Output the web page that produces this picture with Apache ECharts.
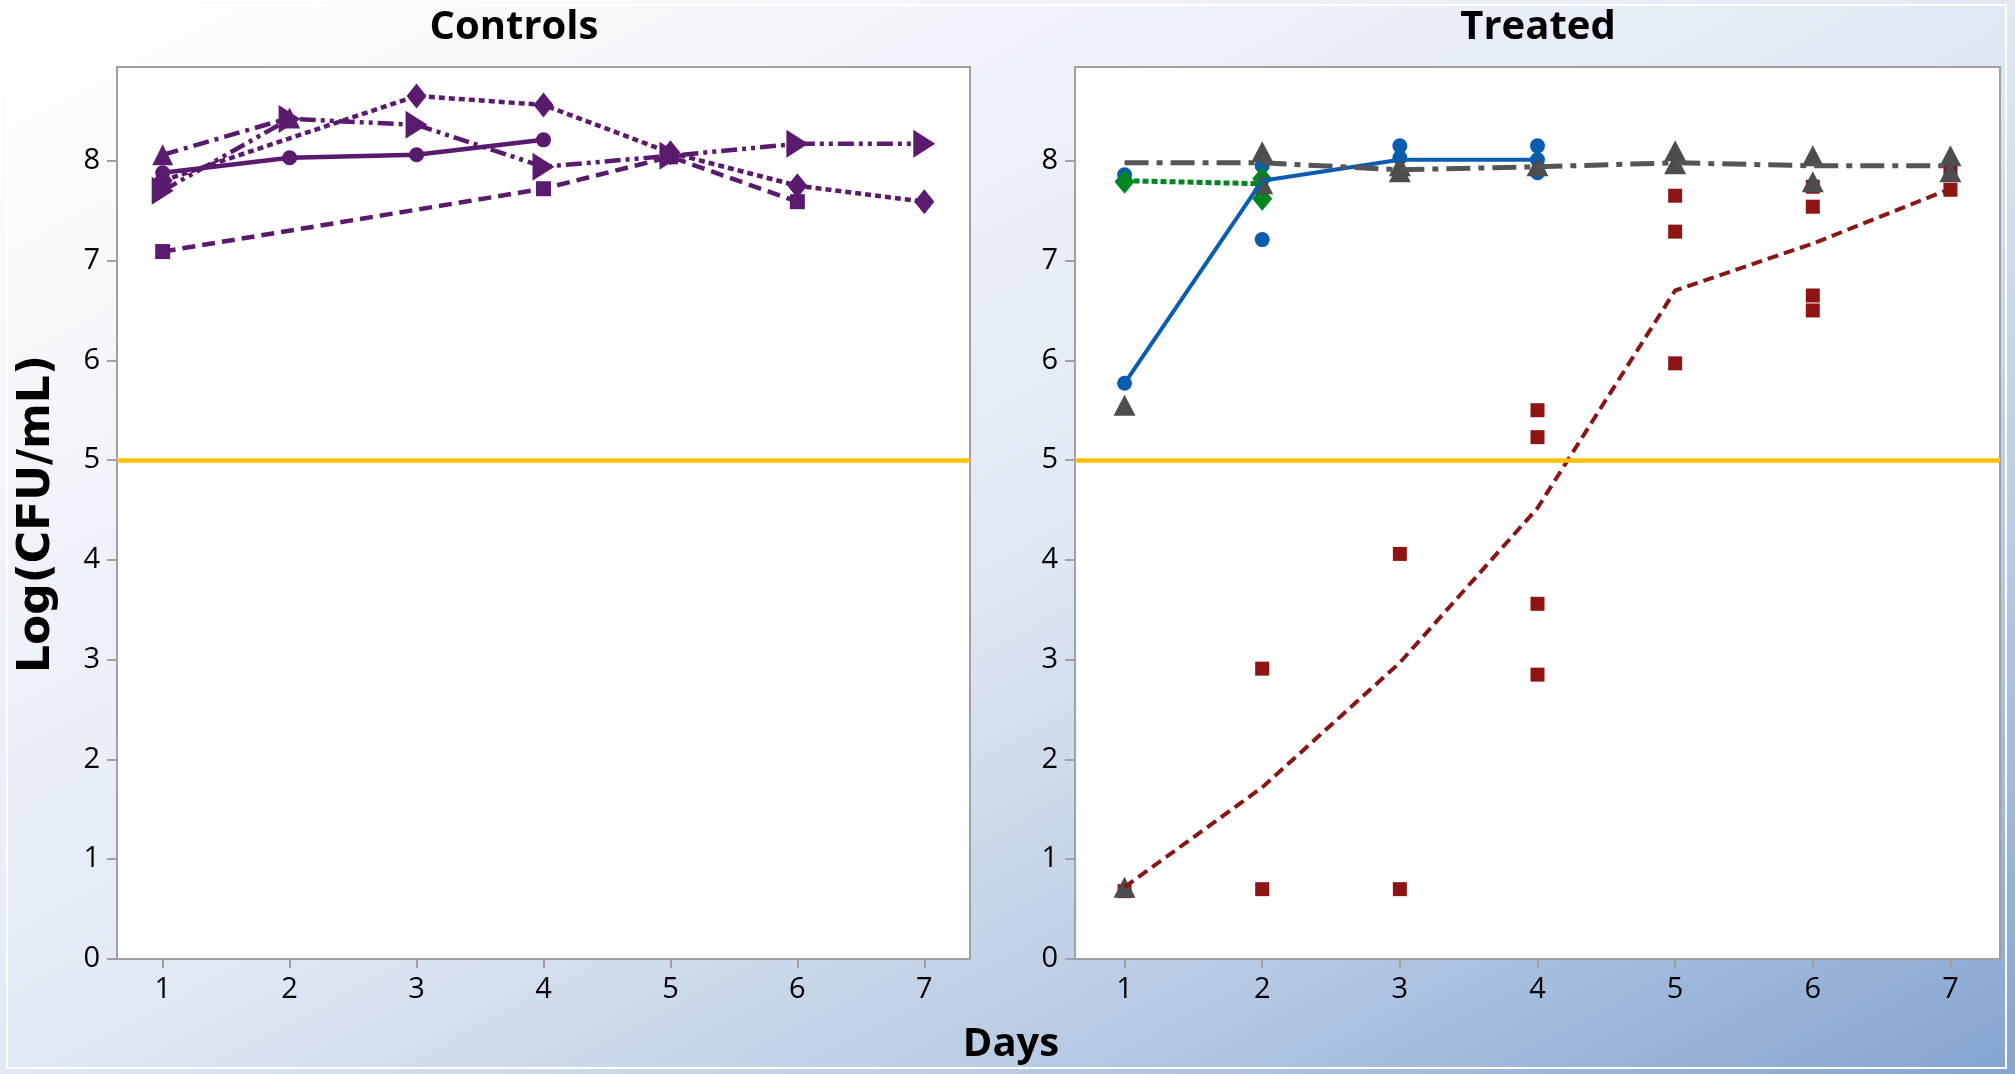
<!DOCTYPE html>
<html>
<head>
<meta charset="utf-8">
<script src="https://cdn.jsdelivr.net/npm/echarts@6/dist/echarts.min.js"></script>
<style>
html,body{margin:0;padding:0;}
#main{width:2015px;height:1074px;background:linear-gradient(to bottom right,#ffffff 0%,#e2e9f4 50%,#b8cbe4 75%,#84a4d1 100%);}
</style>
</head>
<body>
<div id="main"></div>
<script>
// tick labels
var dayTicks = [1, 2, 3, 4, 5, 6, 7];
var logTicks = [0, 1, 2, 3, 4, 5, 6, 7, 8];
var limitLine = 5;

// Controls
var ctrlCircleDays = [1, 2, 3, 4];
var ctrlCircle = [7.88, 8.03, 8.06, 8.21];
var ctrlSquareDays = [1, 4, 5, 6];
var ctrlSquare = [7.09, 7.72, 8.04, 7.59];
var ctrlDiamondDays = [1, 3, 4, 5, 6, 7];
var ctrlDiamond = [7.80, 8.65, 8.56, 8.08, 7.75, 7.59];
var ctrlTriUpDays = [1, 2];
var ctrlTriUp = [8.06, 8.43];
var ctrlTriRightDays = [1, 2, 3, 4, 5, 6, 7];
var ctrlTriRight = [7.70, 8.42, 8.36, 7.94, 8.05, 8.17, 8.17];

// Treated - lines
var blueLineDays = [1, 2, 3, 4];
var blueLine = [5.77, 7.80, 8.01, 8.01];
var greenLineDays = [1, 2];
var greenLine = [7.80, 7.77];
var grayLineDays = [1, 2, 3, 4, 5, 6, 7];
var grayLine = [7.98, 7.98, 7.91, 7.94, 7.98, 7.95, 7.95];
var redLineDays = [1, 2, 3, 4, 5, 6, 7];
var redLine = [0.72, 1.72, 2.97, 4.52, 6.70, 7.17, 7.72];

// Treated - individual points
var bluePtsDays = [1, 1, 2, 2, 3, 3, 4, 4, 4];
var bluePts = [5.77, 7.86, 7.21, 7.95, 8.15, 8.03, 8.15, 7.88, 8.01];
var greenPtsDays = [1, 2, 2];
var greenPts = [7.79, 7.82, 7.62];
var grayPtsDays = [1, 1, 2, 2, 3, 3, 4, 5, 5, 6, 6, 7, 7];
var grayPts = [5.55, 0.72, 8.09, 7.77, 7.95, 7.89, 7.95, 8.10, 7.97, 8.05, 7.79, 8.05, 7.89];
var redPtsDays = [1, 2, 2, 3, 3, 4, 4, 4, 4, 5, 5, 5, 6, 6, 6, 6, 7, 7];
var redPts = [0.68, 2.91, 0.70, 4.06, 0.70, 5.50, 5.23, 3.56, 2.85, 7.65, 7.29, 5.97, 7.74, 7.54, 6.65, 6.50, 7.71, 7.88];

function zip(xs, ys) {
    return xs.map(function (x, i) { return [x, ys[i]]; });
}

var purple = '#5a1a6e';
var font = 'Open Sans';

function xAx(i) {
    return {
        gridIndex: i, type: 'value', min: 0.64, max: 7.36,
        axisLine: {show: false},
        axisTick: {show: true, customValues: dayTicks, length: 9, lineStyle: {color: '#a0a0a0', width: 2}},
        axisLabel: {customValues: dayTicks, fontSize: 29, margin: 16, color: '#000', fontFamily: font},
        splitLine: {show: false}
    };
}
function yAx(i) {
    return {
        gridIndex: i, type: 'value', min: 0, max: 8.94,
        axisLine: {show: false},
        axisTick: {show: true, customValues: logTicks, length: 10, lineStyle: {color: '#a0a0a0', width: 2}},
        axisLabel: {customValues: logTicks, fontSize: 29, margin: 17, color: '#000', fontFamily: font},
        splitLine: {show: false}
    };
}

function ctrlLine(xs, ys, sym, size, rot, dash) {
    return {
        type: 'line', xAxisIndex: 0, yAxisIndex: 0,
        data: zip(xs, ys),
        symbol: sym, symbolSize: size, symbolRotate: rot, showAllSymbol: true,
        itemStyle: {color: purple},
        lineStyle: {color: purple, width: 4.5, type: dash, cap: 'butt'}
    };
}
function trLine(xs, ys, color, width, dash) {
    return {
        type: 'line', xAxisIndex: 1, yAxisIndex: 1,
        data: zip(xs, ys), showSymbol: false,
        lineStyle: {color: color, width: width, type: dash, cap: 'butt'}
    };
}
function trPts(xs, ys, color, sym, size) {
    return {
        type: 'scatter', xAxisIndex: 1, yAxisIndex: 1,
        data: zip(xs, ys), symbol: sym, symbolSize: size,
        itemStyle: {color: color, opacity: 1}
    };
}
var limit = {
    silent: true, symbol: 'none', label: {show: false},
    lineStyle: {color: '#ffc000', width: 4.5, type: 'solid'},
    data: [{yAxis: limitLine}]
};

var chart = echarts.init(document.getElementById('main'));
var option = {
    animation: false,
    grid: [
        {left: 117, top: 67, width: 853, height: 892, show: true, backgroundColor: '#fff', borderColor: '#a0a0a0', borderWidth: 2},
        {left: 1075, top: 67, width: 925, height: 892, show: true, backgroundColor: '#fff', borderColor: '#a0a0a0', borderWidth: 2}
    ],
    xAxis: [xAx(0), xAx(1)],
    yAxis: [yAx(0), yAx(1)],
    graphic: [
        {type: 'rect', shape: {x: 7, y: 5, width: 1999, height: 1063}, style: {fill: 'none', stroke: '#ffffff', lineWidth: 2}, z: -1},
        {type: 'text', x: 514, y: 28, style: {text: 'Controls', font: 'bold 40px "Open Sans"', fill: '#000', align: 'center', verticalAlign: 'middle'}},
        {type: 'text', x: 1538, y: 28, style: {text: 'Treated', font: 'bold 40px "Open Sans"', fill: '#000', align: 'center', verticalAlign: 'middle'}},
        {type: 'text', x: 1011, y: 1045, style: {text: 'Days', font: 'bold 40px "Open Sans"', fill: '#000', align: 'center', verticalAlign: 'middle'}},
        {type: 'text', x: 38, y: 514, rotation: Math.PI / 2, style: {text: 'Log(CFU/mL)', font: 'bold 44px "DejaVu Sans"', fill: '#000', align: 'center', verticalAlign: 'middle'}}
    ],
    series: [
        Object.assign(ctrlLine(ctrlSquareDays, ctrlSquare, 'rect', 15, 0, [13, 7]), {markLine: limit}),
        ctrlLine(ctrlDiamondDays, ctrlDiamond, 'diamond', [20, 25], 0, [6, 4]),
        ctrlLine(ctrlCircleDays, ctrlCircle, 'circle', 15, 0, 'solid'),
        ctrlLine(ctrlTriRightDays, ctrlTriRight, 'triangle', [28, 22], -90, [16, 5, 4, 5, 4, 5]),
        ctrlLine(ctrlTriUpDays, ctrlTriUp, 'triangle', [21, 21], 0, [16, 6, 4, 6]),

        Object.assign(trLine(redLineDays, redLine, '#8b1515', 4, [11, 6]), {markLine: limit}),
        trPts(redPtsDays, redPts, '#8f1414', 'rect', [14, 14]),
        trLine(blueLineDays, blueLine, '#0a5cb0', 4, 'solid'),
        trPts(bluePtsDays, bluePts, '#0a5cb0', 'circle', 15),
        trLine(greenLineDays, greenLine, '#00861e', 5, [6, 3]),
        trPts(greenPtsDays, greenPts, '#00861e', 'diamond', [20, 24]),
        trLine(grayLineDays, grayLine, '#555555', 5, [24, 8, 6, 8]),
        trPts(grayPtsDays, grayPts, '#4d4d4d', 'triangle', [22, 21])
    ]
};
chart.setOption(option);
window.onresize = function () { chart.resize(); };
</script>
</body>
</html>
